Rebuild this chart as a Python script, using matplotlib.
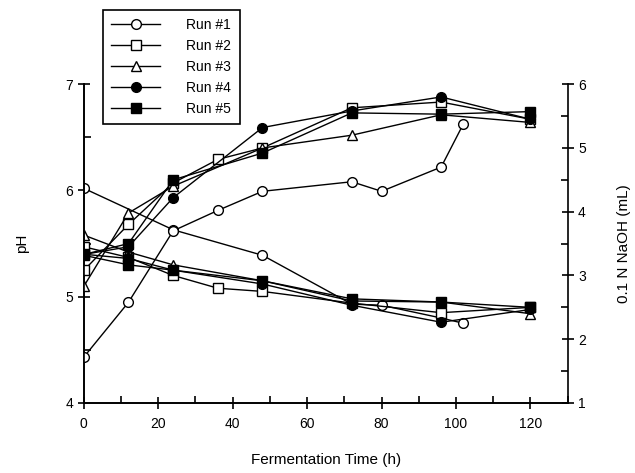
import matplotlib.pyplot as plt
from matplotlib.lines import Line2D

plt.rcParams['font.family'] = ['Liberation Sans', 'DejaVu Sans']

# pH (left axis) vs fermentation time
ph_t1 = [0, 24, 48, 72, 80, 96, 102]
ph_1 = [6.02, 5.63, 5.39, 4.93, 4.92, 4.80, 4.75]
ph_t = [0, 12, 24, 36, 48, 72, 96, 120]
ph_2 = [5.47, 5.37, 5.20, 5.08, 5.05, 4.94, 4.85, 4.90]
ph_t3 = [0, 12, 24, 48, 72, 96, 120]
ph_3 = [5.58, 5.42, 5.30, 5.15, 4.96, 4.95, 4.84]
ph_t4 = [0, 12, 24, 48, 72, 96, 120]
ph_4 = [5.40, 5.36, 5.25, 5.12, 4.92, 4.76, 4.88]
ph_t5 = [0, 12, 24, 48, 72, 96, 120]
ph_5 = [5.39, 5.30, 5.25, 5.15, 4.98, 4.95, 4.90]

# 0.1 N NaOH (right axis)
na_t1 = [0, 12, 24, 36, 48, 72, 80, 96, 102]
na_1 = [1.72, 2.58, 3.70, 4.02, 4.32, 4.47, 4.32, 4.70, 5.38]
na_t2 = [0, 12, 24, 36, 48, 72, 96, 120]
na_2 = [3.08, 3.80, 4.45, 4.82, 5.00, 5.63, 5.72, 5.45]
na_t3 = [0, 12, 24, 48, 72, 96, 120]
na_3 = [2.83, 3.98, 4.40, 5.00, 5.20, 5.52, 5.40]
na_t4 = [0, 12, 24, 48, 72, 96, 120]
na_4 = [3.33, 3.45, 4.22, 5.32, 5.58, 5.80, 5.45]
na_t5 = [0, 12, 24, 48, 72, 96, 120]
na_5 = [3.33, 3.50, 4.50, 4.92, 5.55, 5.53, 5.57]

labels = ['Run #1', 'Run #2', 'Run #3', 'Run #4', 'Run #5']
markers = ['o', 's', '^', 'o', 's']
faces = ['white', 'white', 'white', 'black', 'black']

fig = plt.figure(figsize=(6.35, 4.73), dpi=100)
ax = fig.add_axes([0.132, 0.148, 0.762, 0.674])
ax2 = ax.twinx()

ph_data = [(ph_t1, ph_1), (ph_t, ph_2), (ph_t3, ph_3), (ph_t4, ph_4), (ph_t5, ph_5)]
na_data = [(na_t1, na_1), (na_t2, na_2), (na_t3, na_3), (na_t4, na_4), (na_t5, na_5)]

style = dict(color='black', lw=1.0, markeredgecolor='black', markeredgewidth=1.0, markersize=7)
for (t, v), m, f in zip(ph_data, markers, faces):
    ax.plot(t, v, marker=m, markerfacecolor=f, **style)
for (t, v), m, f in zip(na_data, markers, faces):
    ax2.plot(t, v, marker=m, markerfacecolor=f, **style)

ax.set_xlim(0, 130)
ax.set_ylim(4, 7)
ax2.set_ylim(1, 6)
ax.set_xticks(range(0, 121, 20))
ax.set_xticks(range(10, 131, 10), minor=True)
ax.set_yticks([4, 5, 6, 7])
ax.set_yticks([4.5, 5.5, 6.5], minor=True)
ax2.set_yticks([1, 2, 3, 4, 5, 6])
ax2.set_yticks([1.5, 2.5, 3.5, 4.5, 5.5], minor=True)

for a in (ax, ax2):
    a.spines['top'].set_visible(False)
    for s in a.spines.values():
        s.set_linewidth(1.2)
ax.spines['right'].set_visible(False)

ax.tick_params(axis='both', which='major', direction='inout', length=8, width=1.2, labelsize=10)
ax.tick_params(axis='both', which='minor', direction='in', length=5, width=1.2)
ax.tick_params(axis='x', pad=6)
ax2.tick_params(axis='y', which='major', direction='inout', length=8, width=1.2, labelsize=10)
ax2.tick_params(axis='y', which='minor', direction='in', length=5, width=1.2)

ax.set_xlabel('Fermentation Time (h)', fontsize=11, labelpad=16)
ax.set_ylabel('pH', fontsize=11, labelpad=26)
ax2.set_ylabel('0.1 N NaOH (mL)', fontsize=11, labelpad=22)

handles = [Line2D([], [], marker=m, markerfacecolor=f, **style) for m, f in zip(markers, faces)]
leg = fig.legend(handles, labels, loc='upper left', bbox_to_anchor=(0.162, 0.979),
                 fontsize=10, handlelength=3.5, handletextpad=1.9, labelspacing=0.5,
                 borderpad=0.6, borderaxespad=0, fancybox=False, framealpha=1,
                 edgecolor='black')
leg.get_frame().set_linewidth(1.2)

fig.savefig('out.png', dpi=100)
